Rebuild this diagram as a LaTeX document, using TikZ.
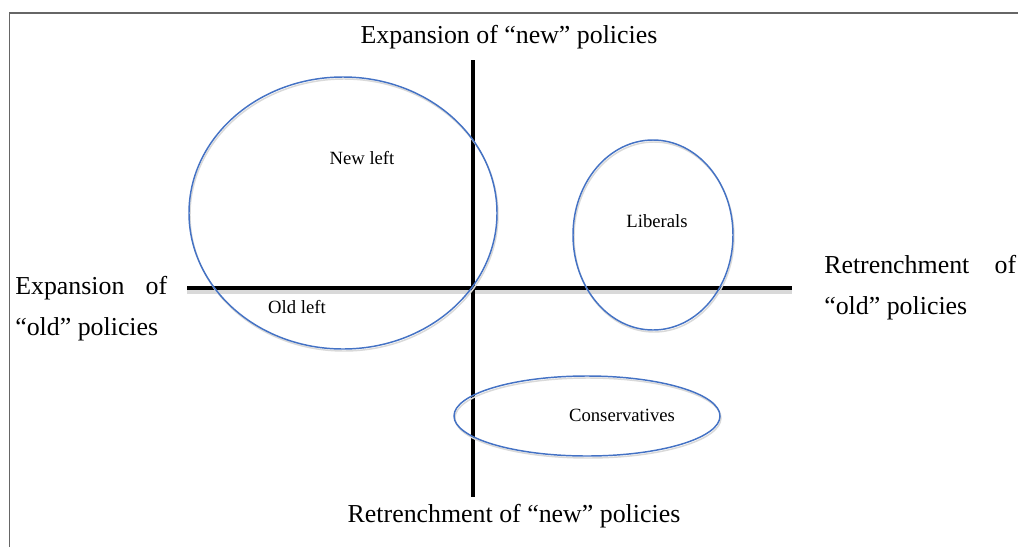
\documentclass[tikz,border=0pt]{standalone}
\usepackage{fontspec}
\setmainfont{Liberation Serif}
\usepackage{xcolor}
\usetikzlibrary{shapes,positioning}

\definecolor{ringblue}{RGB}{68,114,196}

\begin{document}
\begin{tikzpicture}[x=0.75pt,y=-0.75pt]

\tikzstyle{ring} = [ellipse, draw=ringblue, line width=1.1pt, inner sep=0pt]
\tikzstyle{ringshadow} = [ellipse, draw=black!15, line width=1.1pt, inner sep=0pt]
\tikzstyle{axis} = [line width=3pt, black]
\tikzstyle{axisshadow} = [line width=3pt, black!15]
\tikzstyle{heading} = [font=\fontsize{19.4}{31}\selectfont, inner sep=0pt]
\tikzstyle{group} = [font=\fontsize{14}{16}\selectfont, inner sep=0pt]

\useasboundingbox (0,0) rectangle (1018,547);
\draw[black!60, line width=1.2pt] (9.5,547) |- (1018,13);

% axes
\coordinate (west) at (187,288);
\coordinate (east) at (792,288);
\coordinate (north) at (473,60);
\coordinate (south) at (473,497);

\draw [axisshadow] ([yshift=-3pt]west) -- ([yshift=-3pt]east);
\draw [axis] (west) -- (east);
\draw [axis] (north) -- (south);

% groups
\node (newleftshadow) [ringshadow, minimum width=231pt, minimum height=204pt] at (344,215) {};
\node (liberalsshadow) [ringshadow, minimum width=120pt, minimum height=142.5pt] at (654,237) {};
\node (conservativesshadow) [ringshadow, minimum width=199.5pt, minimum height=60pt] at (588,418) {};

\node (newleftring) [ring, minimum width=231pt, minimum height=204pt] at (343,213) {};
\node (liberalsring) [ring, minimum width=120pt, minimum height=142.5pt] at (653,235) {};
\node (conservativesring) [ring, minimum width=199.5pt, minimum height=60pt] at (587,416) {};

\node (newleft) [group] at (362,158) {New left};
\node (oldleft) [group] at (297,307) {Old left};
\node (liberals) [group] at (657,221) {Liberals};
\node (conservatives) [group] at (622,415) {Conservatives};

% axis labels
\node (top) [heading] at (509,37) {Expansion of ``new'' policies};
\node (bottom) [heading] at (514,516) {Retrenchment of ``new'' policies};
\node (left) [heading, anchor=west, align=left] at (15,308.5) {\makebox[114pt][s]{Expansion of}\\``old'' policies};
\node (right) [heading, anchor=west, align=left] at (824,287.5) {\makebox[144pt][s]{Retrenchment of}\\``old'' policies};

\end{tikzpicture}
\end{document}
